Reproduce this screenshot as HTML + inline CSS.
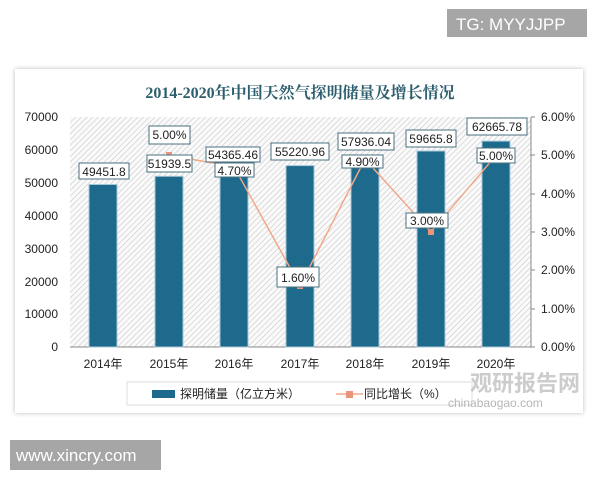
<!DOCTYPE html>
<html><head><meta charset="utf-8"><style>
body{margin:0;background:#fff;width:600px;height:480px;overflow:hidden}
</style></head><body>
<svg width="600" height="480" xmlns="http://www.w3.org/2000/svg" font-family="Liberation Sans, 'Noto Sans CJK SC', sans-serif">
<defs>
<pattern id="h" width="4" height="4" patternUnits="userSpaceOnUse" patternTransform="rotate(45)">
<rect width="4" height="4" fill="#fafafa"/><line x1="0" y1="0" x2="0" y2="4" stroke="#c8c8c8" stroke-width="1.2"/>
</pattern>
<filter id="sh" x="-5%" y="-5%" width="110%" height="110%"><feGaussianBlur stdDeviation="2.5"/></filter>
</defs>
<rect x="447" y="9" width="140" height="28" fill="#a6a6a6"/>
<text x="456" y="30" font-size="17" fill="#fff">TG: MYYJJPP</text>
<rect x="15" y="69" width="568" height="344" fill="#bbb" filter="url(#sh)"/>
<rect x="15" y="69" width="568" height="344" fill="#fff"/>
<text x="300" y="98" font-size="16" font-weight="bold" text-anchor="middle" fill="#2d5e6e" font-family="Liberation Serif, 'Noto Serif CJK SC', serif">2014-2020年中国天然气探明储量及增长情况</text>
<rect x="70" y="117" width="461" height="230" fill="url(#h)"/>
<line x1="70" y1="347" x2="531" y2="347" stroke="#888" stroke-width="1"/>
<line x1="531" y1="117" x2="531" y2="347" stroke="#888" stroke-width="1"/>
<g stroke="#888"><line x1="531" y1="117" x2="535" y2="117"/><line x1="531" y1="155" x2="535" y2="155"/><line x1="531" y1="194" x2="535" y2="194"/><line x1="531" y1="232" x2="535" y2="232"/><line x1="531" y1="270" x2="535" y2="270"/><line x1="531" y1="309" x2="535" y2="309"/><line x1="531" y1="347" x2="535" y2="347"/></g>
<g font-size="12" fill="#222" text-anchor="end">
<text x="58" y="121">70000</text><text x="58" y="154">60000</text><text x="58" y="187">50000</text><text x="58" y="220">40000</text><text x="58" y="253">30000</text><text x="58" y="286">20000</text><text x="58" y="318">10000</text><text x="58" y="351">0</text>
</g>
<g font-size="12" fill="#222">
<text x="541" y="121">6.00%</text><text x="541" y="159">5.00%</text><text x="541" y="198">4.00%</text><text x="541" y="236">3.00%</text><text x="541" y="274">2.00%</text><text x="541" y="313">1.00%</text><text x="541" y="351">0.00%</text>
</g>
<g fill="#1d6a8c" stroke="#a8c8d8" stroke-width="1">
<rect x="89" y="184.5" width="28" height="162.5"/>
<rect x="155" y="176.3" width="28" height="170.7"/>
<rect x="220" y="168.4" width="28" height="178.6"/>
<rect x="286" y="165.6" width="28" height="181.4"/>
<rect x="351" y="156.6" width="28" height="190.4"/>
<rect x="417" y="151" width="28" height="196"/>
<rect x="482" y="141.1" width="28" height="205.9"/>
</g>
<polyline points="169,155.3 234,166.8 300,285.7 365,159.2 431,232 496,155.3" fill="none" stroke="#f2a88a" stroke-width="1.5"/>
<g fill="#e8957a"><rect x="166" y="152" width="6" height="6"/><rect x="231" y="164" width="6" height="6"/><rect x="297" y="283" width="6" height="6"/><rect x="362" y="156" width="6" height="6"/><rect x="428" y="229" width="6" height="6"/><rect x="493" y="152" width="6" height="6"/></g>
<g fill="#fff" stroke="#4a7080" stroke-width="1">
<rect x="79" y="163" width="50" height="16"/>
<rect x="147" y="155" width="45" height="17"/>
<rect x="149" y="126" width="41" height="18"/>
<rect x="206" y="147" width="54" height="15"/>
<rect x="215" y="163" width="39" height="14"/>
<rect x="271" y="143" width="58" height="17"/>
<rect x="277" y="267" width="42" height="20"/>
<rect x="338" y="133" width="56" height="17"/>
<rect x="342" y="155" width="41" height="13"/>
<rect x="406" y="130" width="50" height="17"/>
<rect x="406" y="213" width="42" height="15"/>
<rect x="467" y="118" width="60" height="17"/>
<rect x="477" y="148" width="38" height="15"/>
</g>
<g font-size="12" fill="#222" text-anchor="middle">
<text x="104" y="176">49451.8</text>
<text x="169.5" y="168">51939.5</text>
<text x="169.5" y="139">5.00%</text>
<text x="233" y="159">54365.46</text>
<text x="234.5" y="175">4.70%</text>
<text x="300" y="156">55220.96</text>
<text x="298" y="282">1.60%</text>
<text x="366" y="146">57936.04</text>
<text x="362.5" y="166">4.90%</text>
<text x="431" y="143">59665.8</text>
<text x="427" y="225">3.00%</text>
<text x="497" y="131">62665.78</text>
<text x="496" y="160">5.00%</text>
</g>
<g font-size="12" fill="#222" text-anchor="middle">
<text x="103" y="368">2014年</text><text x="169" y="368">2015年</text><text x="234" y="368">2016年</text><text x="300" y="368">2017年</text><text x="365" y="368">2018年</text><text x="431" y="368">2019年</text><text x="496" y="368">2020年</text>
</g>
<rect x="127" y="382" width="345" height="23" fill="#fff" stroke="#ddd"/>
<rect x="152" y="390" width="23" height="8" fill="#1d6a8c"/>
<text x="180" y="398" font-size="12" fill="#222">探明储量（亿立方米）</text>
<line x1="336" y1="394" x2="363" y2="394" stroke="#f2a88a" stroke-width="1.5"/>
<rect x="346" y="391" width="7" height="7" fill="#e8957a"/>
<text x="364" y="398" font-size="12" fill="#222">同比增长（%）</text>
<text x="470" y="391" font-size="22" font-weight="bold" fill="#bbb" opacity="0.75">观研报告网</text>
<text x="448" y="407" font-size="12" fill="#aaa" opacity="0.85">chinabaogao.com</text>
<rect x="10" y="440" width="151" height="30" fill="#a6a6a6"/>
<text x="16" y="461" font-size="17" fill="#fff">www.xincry.com</text>
</svg>
</body></html>
